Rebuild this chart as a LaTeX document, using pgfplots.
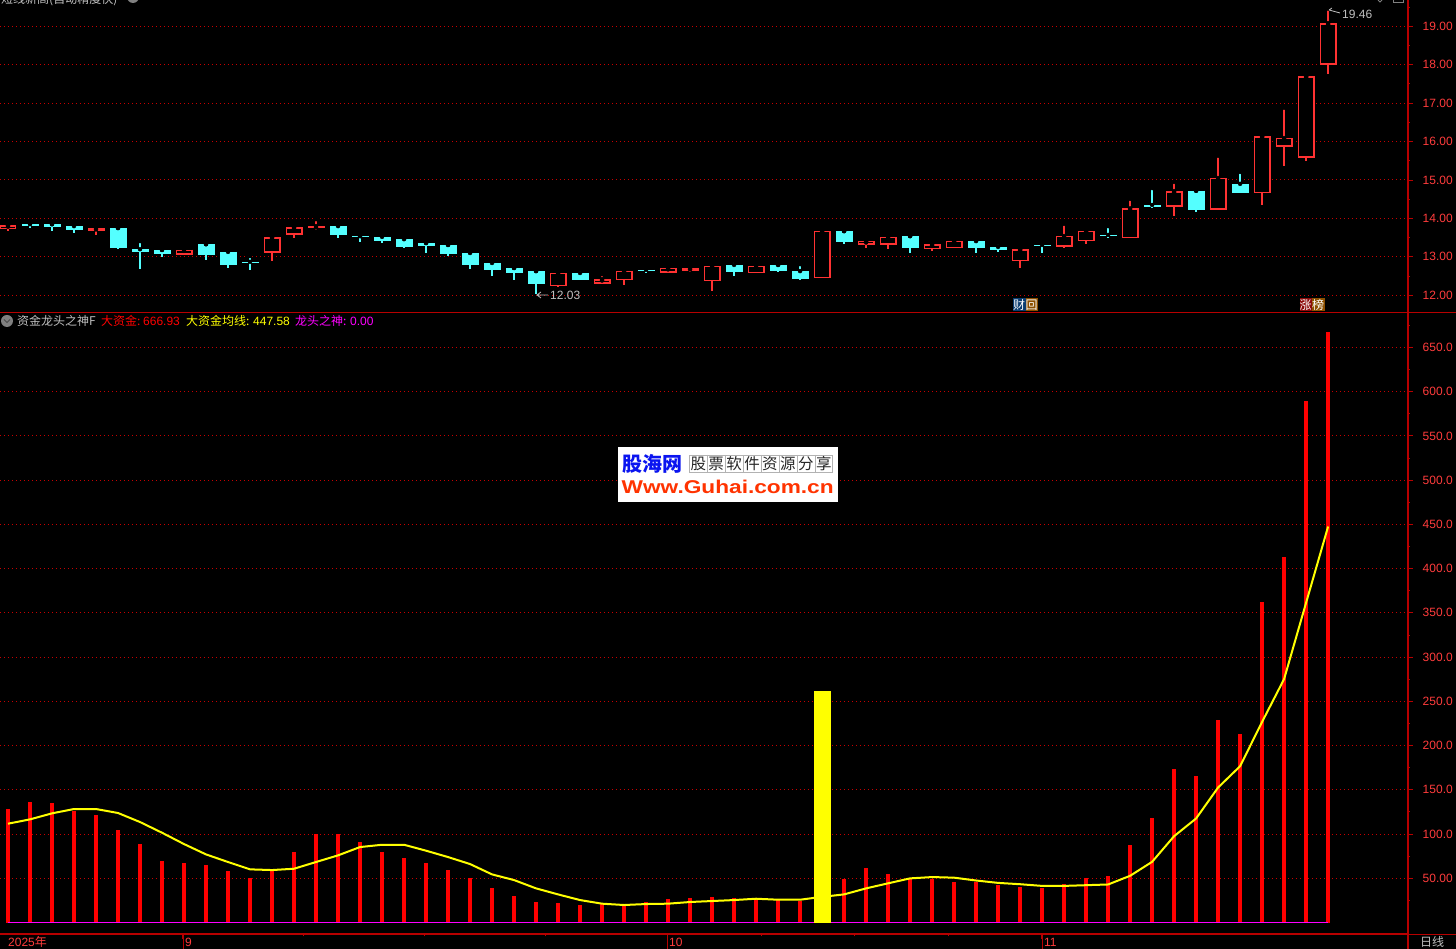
\documentclass[border=0pt]{standalone}
\usepackage{graphicx}
\usepackage{fontspec}
\usepackage{pgfplots}
\usepackage{pgfplotstable}
\pgfplotsset{compat=1.18}
\setmainfont{Liberation Sans}
\newfontfamily\cjk{Noto Sans CJK SC}

\definecolor{upred}{HTML}{FF3232}
\definecolor{downcyan}{HTML}{54FFFF}
\definecolor{axisred}{HTML}{B80000}
\definecolor{gridred}{HTML}{C80000}
\definecolor{labelred}{HTML}{FF3C3C}
\definecolor{txtgray}{HTML}{C0C0C0}
\definecolor{tagblue}{HTML}{0A3C70}
\definecolor{tagbrown}{HTML}{8C5000}
\definecolor{tagred}{HTML}{8C0A0A}
\definecolor{stampblue}{HTML}{0A14F0}
\definecolor{stampred}{HTML}{FF3300}
\definecolor{lineyellow}{RGB}{255,255,0}
\definecolor{linemag}{RGB}{255,0,255}
\definecolor{barred}{RGB}{255,0,0}

% i bodytop bodybottom high low
\pgfplotstableread{
i top bot hi lo
0 13.82 13.73 13.82 13.68
4 13.75 13.68 13.80 13.58
8 13.19 13.06 13.28 13.06
12 13.51 13.11 13.51 12.90
13 13.77 13.58 13.77 13.50
14 13.80 13.76 13.98 13.70
25 12.58 12.24 12.58 12.22
27 12.42 12.30 12.55 12.30
28 12.63 12.40 12.63 12.27
30 12.71 12.59 12.71 12.59
31 12.71 12.64 12.76 12.61
32 12.76 12.37 12.76 12.11
34 12.76 12.58 12.81 12.58
37 13.67 12.45 13.67 12.45
39 13.41 13.32 13.41 13.23
40 13.52 13.32 13.52 13.20
42 13.33 13.20 13.36 13.15
43 13.41 13.23 13.41 13.23
46 13.20 12.88 13.20 12.71
48 13.54 13.26 13.86 13.23
49 13.67 13.40 13.67 13.34
51 14.26 13.48 14.51 13.48
53 14.71 14.31 14.95 14.07
55 15.05 14.23 15.63 14.23
57 16.14 14.65 16.14 14.35
58 16.09 15.87 16.88 15.37
59 17.70 15.58 17.70 15.50
60 19.08 18.00 19.46 17.76
}\upcandles

\pgfplotstableread{
i top bot hi lo
1 13.85 13.81 13.93 13.76
2 13.85 13.77 13.85 13.68
3 13.80 13.70 13.87 13.63
5 13.75 13.23 13.75 13.20
6 13.20 13.13 13.41 12.69
7 13.18 13.07 13.18 13.00
9 13.33 13.05 13.33 12.93
10 13.13 12.79 13.18 12.72
11 12.87 12.85 13.02 12.67
15 13.80 13.57 13.83 13.50
16 13.54 13.52 13.54 13.39
17 13.52 13.41 13.59 13.36
18 13.46 13.26 13.52 13.23
19 13.36 13.28 13.36 13.10
20 13.31 13.07 13.31 13.02
21 13.10 12.79 13.13 12.68
22 12.84 12.66 12.92 12.50
23 12.71 12.58 12.71 12.40
24 12.63 12.29 12.63 12.03
26 12.58 12.40 12.68 12.40
29 12.66 12.64 12.71 12.58
33 12.79 12.61 12.89 12.50
35 12.79 12.63 12.79 12.61
36 12.63 12.42 12.81 12.40
38 13.67 13.39 13.67 13.33
41 13.54 13.23 13.54 13.10
44 13.41 13.23 13.44 13.10
45 13.26 13.18 13.36 13.13
47 13.31 13.29 13.36 13.10
50 13.57 13.54 13.80 13.49
52 14.35 14.30 14.79 14.27
54 14.72 14.22 14.72 14.17
56 14.90 14.66 15.21 14.66
}\downcandles

% i dazijin junxian longtou
\pgfplotstableread{
i big avg dragon
0 128.3 111.7 0
1 136.2 116.6 0
2 135.1 123.4 0
3 126.0 128.3 0
4 121.5 128.3 0
5 104.6 123.8 0
6 88.7 113.6 0
7 69.5 101.5 0
8 67.3 88.7 0
9 65.0 77.0 0
10 58.2 68.4 0
11 50.3 60.1 0
12 58.2 59.3 0
13 79.7 60.8 0
14 100.0 68.4 0
15 100.0 75.9 0
16 91.0 85.3 0
17 79.7 87.9 0
18 72.9 87.9 0
19 67.3 81.2 0
20 59.3 74.0 0
21 50.3 66.1 0
22 39.0 54.4 0
23 30.0 48.0 0
24 23.2 38.6 0
25 22.0 31.8 0
26 19.8 25.4 0
27 21.0 21.3 0
28 19.8 19.8 0
29 23.0 20.9 0
30 26.6 21.3 0
31 27.7 23.2 0
32 28.8 24.3 0
33 27.7 25.4 0
34 26.6 26.9 0
35 25.4 25.8 0
36 24.3 25.8 0
37 26.0 29.0 0
38 49.2 31.8 0
39 61.6 38.6 0
40 54.8 44.3 0
41 49.2 49.9 0
42 49.2 51.4 0
43 45.8 50.7 0
44 45.6 47.5 0
45 42.2 44.8 0
46 39.9 43.3 0
47 38.8 41.4 0
48 43.3 41.4 0
49 50.1 42.2 0
50 52.4 43.0 0
51 87.4 52.8 0
52 117.9 68.6 0
53 173.3 97.6 0
54 165.4 117.6 0
55 228.7 152.6 0
56 212.9 176.7 0
57 362.0 226.8 0
58 413.0 275.2 0
59 589.5 361.5 0
60 666.93 447.58 0
}\moneydata

\pgfplotsset{
  panel/.style={
    scale only axis, width=1407.5pt,
    anchor=north west,
    xmin=-0.3636, xmax=63.61,
    axis x line*=bottom, axis y line*=right,
    axis line style={-, color=axisred, line width=1.6pt},
    tick align=outside,
    major tick length=5pt, minor tick length=2pt,
    tick style={color=axisred, line width=0.9pt},
    ymajorgrids,
    grid style={color=gridred, line width=1pt, dash pattern=on 1pt off 3pt},
    tick label style={font=\fontsize{12}{12}\selectfont, text=labelred},
    yticklabel style={anchor=west, inner sep=0pt, xshift=10pt},
  },
  wick/.style={only marks, mark=none, error bars/.cd, y dir=minus, y explicit,
    error mark=none, error bar style={line width=1.3pt, color=#1}},
  body/.style 2 args={only marks, mark=none, error bars/.cd, y dir=minus, y explicit,
    error mark=none, error bar style={line width=#2, color=#1}},
}

\begin{document}
\begin{tikzpicture}[x=1pt,y=1pt]
\fill[black] (0,0) rectangle (1456,949);
\useasboundingbox (0,0) rectangle (1456,949);

% candles
\begin{axis}[panel, at={(0pt,949pt)}, height=312.5pt,
    ymin=11.552, ymax=19.684,
    ytick={12,13,14,15,16,17,18,19},
    yticklabels={12.00,13.00,14.00,15.00,16.00,17.00,18.00,19.00},
    minor ytick={12.5,13.5,14.5,15.5,16.5,17.5,18.5,19.5},
    xtick=\empty,
]
\addplot[wick=downcyan] table[x=i, y=hi, y error minus expr=\thisrow{hi}-\thisrow{lo}] {\downcandles};
\addplot[wick=upred] table[x=i, y=hi, y error minus expr=\thisrow{hi}-\thisrow{lo}] {\upcandles};
\addplot[body={downcyan}{17pt}] table[x=i, y=top, y error minus expr=\thisrow{top}-\thisrow{bot}] {\downcandles};
\addplot[body={upred}{17pt}] table[x=i, y=top, y error minus expr=\thisrow{top}-\thisrow{bot}] {\upcandles};
\addplot[body={black}{14.2pt}] table[x=i, y expr=\thisrow{top}-0.036, y error minus expr={max(\thisrow{top}-\thisrow{bot}-0.072,0)}] {\upcandles};
\end{axis}

% indicator panel
\begin{axis}[panel, at={(0pt,636.5pt)}, height=621.8pt,
    ymin=-13.3, ymax=689.5,
    ytick={50,100,150,200,250,300,350,400,450,500,550,600,650},
    yticklabels={50.00,100.0,150.0,200.0,250.0,300.0,350.0,400.0,450.0,500.0,550.0,600.0,650.0},
    minor ytick={25,75,125,175,225,275,325,375,425,475,525,575,625,675},
    xtick={7.95,29.95,46.99},
    xticklabels={9,10,11},
    minor xtick={13.45,18.95,24.45,34.23,38.45,42.73},
    xticklabel style={anchor=base west, inner sep=0pt, xshift=2pt, yshift=-7.5pt},
    extra x ticks={-0.09},
    extra x tick labels={2025{\cjk 年}},
    extra x tick style={major tick length=0pt, xticklabel style={yshift=-5pt}},
]
\addplot[ycomb, color=barred, line width=4.3pt] table[x=i, y=big] {\moneydata};
\addplot[color=lineyellow, line width=2pt, sharp plot] table[x=i, y=avg] {\moneydata};
\addplot[color=linemag, line width=1.2pt, sharp plot] table[x=i, y=dragon] {\moneydata};
\addplot[ycomb, color=lineyellow, line width=17pt] coordinates {(37,261.7)};
\end{axis}

% text, rules and marks in pixel coordinates
\begin{scope}[shift={(0,949pt)}, x=1pt, y=-1pt, every node/.style={inner sep=0pt, font=\fontsize{12}{12}\selectfont}]
\draw[axisred, line width=1.4pt] (0,312.5) -- (1456,312.5);
\draw[axisred, line width=1.4pt] (0,934.3) -- (1456,934.3);
\draw[axisred, line width=1.6pt] (1408,0) -- (1408,949);
\foreach \x in {183,667,1042} \draw[axisred, line width=0.8pt] (\x,934) -- (\x,949);

\node[anchor=base west, text=txtgray] at (1,3.5) {\cjk 短线新高(自动精度快)};
\fill[gray] (133,-3) circle (6);
\draw[gray, line width=0.8pt] (1378,0) -- (1380,2) -- (1382,0);
\draw[gray, line width=0.8pt] (1393,0) -- (1393,2) -- (1403,2) -- (1403,0);

\fill[gray] (7,321) circle (6);
\draw[black!70, line width=1pt] (4,319.5) -- (7,322.5) -- (10,319.5);
\node[anchor=base west, text=txtgray] at (17,325.5) {\cjk 资金龙头之神F};
\node[anchor=base west, text=barred] at (101,325.5) {\cjk 大资金:};
\node[anchor=base west, text=barred] at (143,325.5) {666.93};
\node[anchor=base west, text=lineyellow] at (186,325.5) {\cjk 大资金均线:};
\node[anchor=base west, text=lineyellow] at (253,325.5) {447.58};
\node[anchor=base west, text=linemag] at (295,325.5) {\cjk 龙头之神:};
\node[anchor=base west, text=linemag] at (350,325.5) {0.00};

\draw[txtgray, line width=0.8pt] (548,295) -- (537,295) (541,292) -- (537,295) -- (541,298);
\node[anchor=base west, text=txtgray] at (550,299.5) {12.03};
\draw[txtgray, line width=0.8pt] (1340,13) -- (1329,10) (1332,8) -- (1329,10);
\node[anchor=base west, text=txtgray] at (1342,18.5) {19.46};

\fill[tagblue] (1013,298.5) rectangle (1025.5,311);
\fill[tagbrown] (1025.5,298.5) rectangle (1038,311);
\node[anchor=base, text=white] at (1019.2,309.5) {\cjk 财};
\node[anchor=base, text=white] at (1031.7,309.5) {\cjk 回};
\fill[tagred] (1299.5,298.5) rectangle (1312,311);
\fill[tagbrown] (1312,298.5) rectangle (1324.5,311);
\node[anchor=base, text=white] at (1305.7,309.5) {\cjk 涨};
\node[anchor=base, text=white] at (1318.2,309.5) {\cjk 榜};

\node[anchor=base west, text=txtgray] at (1420,947) {\cjk 日线};

% site stamp
\fill[white] (618,447) rectangle (838,501.7);
\node[anchor=base west, text=stampblue, font=\fontsize{20}{20}\selectfont\bfseries] at (622,472) {\cjk\bfseries 股海网};
\draw[gray!60, line width=0.5pt] (689.3,455) rectangle (832.7,472.7);
\foreach \k in {1,...,7} \draw[gray!60, line width=0.5pt] (689.3+\k*17.92,455) -- (689.3+\k*17.92,472.7);
\foreach \c [count=\k from 0] in {股,票,软,件,资,源,分,享}
  \node[anchor=center, text=black!85, font=\fontsize{15.5}{16}\selectfont] at (698.3+\k*17.92,463.8) {\cjk \c};
\node[anchor=base west, text=stampred, font=\fontsize{18.5}{19}\selectfont\bfseries] at (621.5,493.3) {\scalebox{1.225}[1]{Www.Guhai.com.cn}};
\end{scope}
\end{tikzpicture}
\end{document}
